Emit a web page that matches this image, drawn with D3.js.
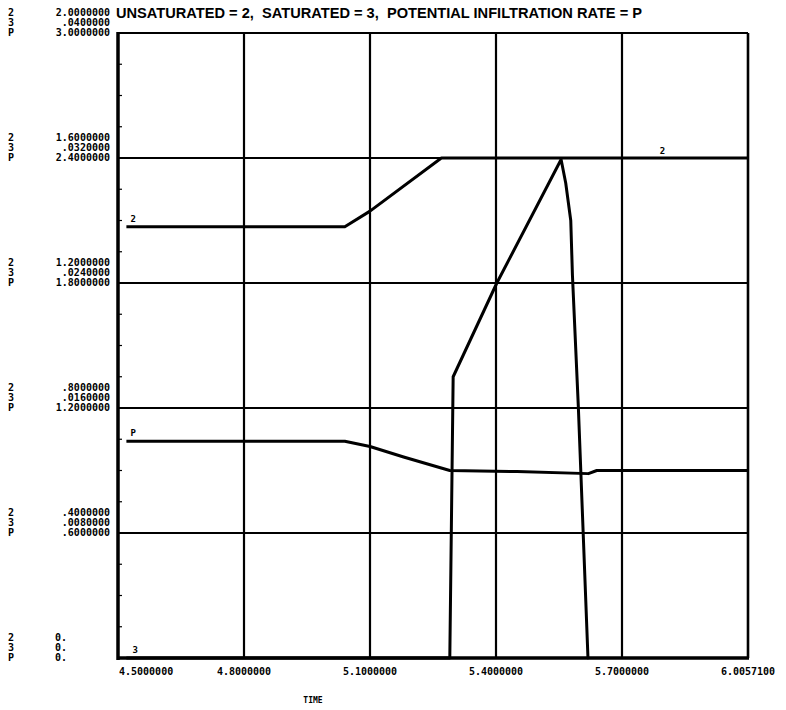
<!DOCTYPE html>
<html>
<head>
<meta charset="utf-8">
<script src="https://cdn.jsdelivr.net/npm/d3@7"></script>
<style>
  html, body { margin: 0; padding: 0; background: #fff; }
  svg { display: block; }
  text { fill: #000; }
  .num { font-family: "DejaVu Sans Mono", monospace; font-weight: bold; font-size: 10px; }
  .title { font-family: "Liberation Sans", Arial, sans-serif; font-weight: bold; font-size: 14px; white-space: pre; }
</style>
</head>
<body>
<svg id="chart" width="786" height="710"></svg>
<script>
// Time axis (hours) and its printed labels
const timeTicks = [4.5, 4.8, 5.1, 5.4, 5.7, 6.0];
const timeTickLabels = ["4.5000000", "4.8000000", "5.1000000", "5.4000000", "5.7000000", "6.0057100"];

// Printed scale labels, one column per series (bottom to top)
const seriesKeys = ["2", "3", "P"];
const unsatTickLabels = ["0.", ".4000000", ".8000000", "1.2000000", "1.6000000", "2.0000000"];
const satTickLabels = ["0.", ".0080000", ".0160000", ".0240000", ".0320000", ".0400000"];
const potTickLabels = ["0.", ".6000000", "1.2000000", "1.8000000", "2.4000000", "3.0000000"];
const unsatTicks = [0, 0.4, 0.8, 1.2, 1.6, 2.0];

// Series 2: unsaturated
const unsatTime = [4.52, 5.04, 5.10, 5.27, 6.0];
const unsatValue = [1.38, 1.38, 1.43, 1.60, 1.60];

// Series 3: saturated
const satTime = [4.52, 5.290, 5.298, 5.402, 5.555, 5.566, 5.578, 5.582, 5.596, 5.619, 5.62];
const satValue = [0, 0, 0.0180, 0.0240, 0.0319, 0.0304, 0.0280, 0.0245, 0.0161, 0, 0];

// Series P: potential infiltration rate
const potTime = [4.52, 5.04, 5.10, 5.18, 5.29, 5.45, 5.62, 5.64, 6.0];
const potValue = [1.04, 1.04, 1.015, 0.965, 0.90, 0.895, 0.885, 0.90, 0.90];

const svg = d3.select("#chart");
const plotLeft = 118, plotRight = 748, plotTop = 33, plotBottom = 658;

const x = d3.scaleLinear().domain([4.5, 6.0]).range([plotLeft, plotRight]);
const yUnsat = d3.scaleLinear().domain([0, 2.0]).range([plotBottom, plotTop]);
const ySat = d3.scaleLinear().domain([0, 0.04]).range([plotBottom, plotTop]);
const yPot = d3.scaleLinear().domain([0, 3.0]).range([plotBottom, plotTop]);

// Grid
const grid = svg.append("g").attr("stroke", "#000");
grid.selectAll("line.v").data(timeTicks.slice(1, -1)).join("line")
  .attr("x1", d => x(d)).attr("x2", d => x(d))
  .attr("y1", plotTop).attr("y2", plotBottom).attr("stroke-width", 2.2);
grid.selectAll("line.h").data(unsatTicks.slice(1, -1)).join("line")
  .attr("x1", plotLeft).attr("x2", plotRight)
  .attr("y1", d => yUnsat(d)).attr("y2", d => yUnsat(d)).attr("stroke-width", 2.2);

// Frame
grid.append("line").attr("x1", plotLeft).attr("x2", plotRight).attr("y1", plotTop).attr("y2", plotTop).attr("stroke-width", 2);
grid.append("line").attr("x1", plotRight).attr("x2", plotRight).attr("y1", plotTop).attr("y2", plotBottom).attr("stroke-width", 2.6);
grid.append("line").attr("x1", plotLeft).attr("x2", plotLeft).attr("y1", plotTop - 1).attr("y2", plotBottom + 2).attr("stroke-width", 3.5);
grid.append("line").attr("x1", plotLeft - 1).attr("x2", plotRight + 1).attr("y1", plotBottom).attr("y2", plotBottom).attr("stroke-width", 3.5);

// Small ticks along the left edge
const minor = d3.range(0, 2.0001, 0.1);
grid.selectAll("line.m").data(minor).join("line")
  .attr("x1", plotLeft).attr("x2", plotLeft + 4)
  .attr("y1", d => yUnsat(d)).attr("y2", d => yUnsat(d)).attr("stroke-width", 1.2);

// Curves
function drawSeries(times, values, yScale) {
  const pts = times.map((t, i) => [x(t), yScale(values[i])]);
  svg.append("path")
    .attr("d", d3.line()(pts))
    .attr("fill", "none").attr("stroke", "#000")
    .attr("stroke-width", 3).attr("stroke-linejoin", "round").attr("stroke-linecap", "butt");
}
drawSeries(unsatTime, unsatValue, yUnsat);
drawSeries(potTime, potValue, yPot);
drawSeries(satTime, satValue, ySat);

// Curve identifiers
const marks = svg.append("g").attr("class", "num").style("font-size", "9px");
marks.append("text").attr("x", x(unsatTime[0]) + 4).attr("y", yUnsat(unsatValue[0]) - 5).text("2");
marks.append("text").attr("x", x(potTime[0]) + 4).attr("y", yPot(potValue[0]) - 5).text("P");
marks.append("text").attr("x", x(satTime[0]) + 6).attr("y", ySat(satValue[0]) - 5).text("3");
marks.append("text").attr("x", x(5.79)).attr("y", yUnsat(unsatValue[unsatValue.length - 1]) - 4).text("2");

// Left scale labels: three rows per grid level
const ylab = svg.append("g").attr("class", "num");
const columns = [unsatTickLabels, satTickLabels, potTickLabels];
unsatTicks.forEach((v, i) => {
  const yy = yUnsat(v);
  columns.forEach((col, r) => {
    const rowY = yy - 20 + r * 10 + 3;
    ylab.append("text").attr("x", 8).attr("y", rowY).text(seriesKeys[r]);
    const lab = col[i];
    if (lab === "0.") {
      ylab.append("text").attr("x", 55).attr("y", rowY).text(lab);
    } else {
      ylab.append("text").attr("x", 110).attr("y", rowY).attr("text-anchor", "end").text(lab);
    }
  });
});

// Time labels
const xlab = svg.append("g").attr("class", "num");
timeTicks.forEach((t, i) => {
  const first = i === 0;
  xlab.append("text")
    .attr("x", first ? plotLeft + 1 : x(t))
    .attr("y", 675)
    .attr("text-anchor", first ? "start" : "middle")
    .text(timeTickLabels[i]);
});
svg.append("text").attr("class", "num").style("font-size", "8px")
  .attr("x", 313).attr("y", 703).attr("text-anchor", "middle").text("TIME");

// Title
svg.append("text").attr("class", "title")
  .attr("x", 116).attr("y", 18)
  .attr("textLength", 526).attr("lengthAdjust", "spacingAndGlyphs")
  .text("UNSATURATED = 2,  SATURATED = 3,  POTENTIAL INFILTRATION RATE = P");
</script>
</body>
</html>
